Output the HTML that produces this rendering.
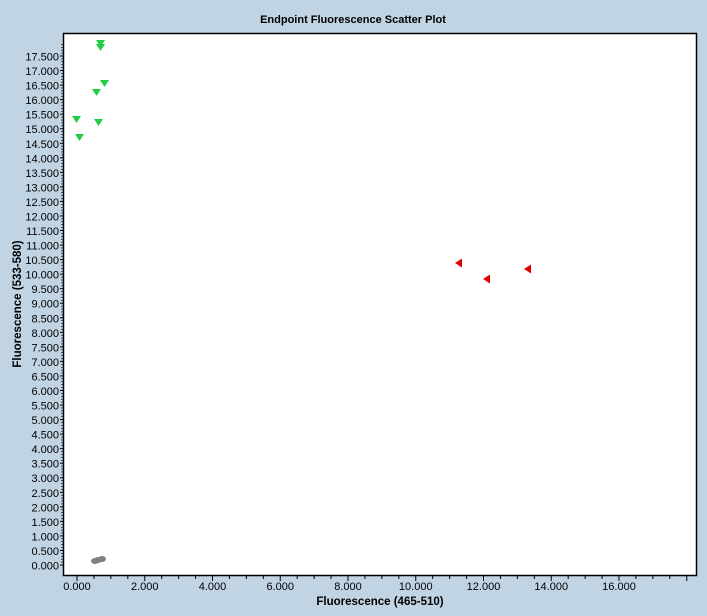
<!DOCTYPE html>
<html><head><style>body{margin:0;background:#c1d4e4;}svg{display:block}text{font-family:"Liberation Sans",sans-serif}</style></head>
<body>
<svg width="707" height="616" xmlns="http://www.w3.org/2000/svg">
<rect width="707" height="616" fill="#c1d4e4"/>
<text x="353" y="23" text-anchor="middle" font-size="11" font-weight="bold">Endpoint Fluorescence Scatter Plot</text>
<rect x="63.5" y="33.5" width="633" height="542" fill="#fff" stroke="#000" stroke-width="1.5"/>
<g id="yt" font-size="11" text-anchor="end"></g>
<g id="xt" font-size="11" text-anchor="middle"></g>
<text x="380" y="605" text-anchor="middle" font-size="11.5" font-weight="bold">Fluorescence (465-510)</text>
<text transform="translate(21,304) rotate(-90)" text-anchor="middle" font-size="11.5" font-weight="bold">Fluorescence (533-580)</text>
<g fill="#22cc44">
<path d="M96,40h9l-4.5,7z"/><path d="M96,44h9l-4.5,7z"/>
<path d="M100,80h9l-4.5,7z"/><path d="M92,89h9l-4.5,7z"/>
<path d="M72,116h9l-4.5,7z"/><path d="M94,119h9l-4.5,7z"/>
<path d="M75,134h9l-4.5,7z"/>
</g>
<g fill="#e00000">
<path d="M455,263l7,-4.5v9z"/><path d="M483,279l7,-4.5v9z"/><path d="M524,269l7,-4.5v9z"/>
</g>
<g fill="#808080">
<ellipse cx="95" cy="561" rx="4" ry="3"/><ellipse cx="98" cy="560" rx="4" ry="3"/><ellipse cx="102" cy="559" rx="4" ry="3"/>
</g>
<script>
var ns="http://www.w3.org/2000/svg",yt=document.getElementById('yt'),xt=document.getElementById('xt');
function el(p,t,a){var e=document.createElementNS(ns,t);for(var k in a)e.setAttribute(k,a[k]);p.appendChild(e);return e;}
for(var i=0;i<=35;i++){var v=i*0.5,y=565-v*29.086;
 var t=el(yt,'text',{x:59,y:y+4.5});t.textContent=v.toFixed(3);
 el(yt,'line',{x1:60,x2:63,y1:y,y2:y,stroke:'#000','stroke-width':1});
 for(var j=1;j<5&&i<36;j++){var yy=y-j*29.086/10;if(yy>34)el(yt,'line',{x1:61,x2:63,y1:yy,y2:yy,stroke:'#000','stroke-width':0.6});}
}
for(var u=0;u<=18.5;u+=0.5){var x=77+u*33.875;if(x>696)break;
 el(xt,'line',{x1:x,x2:x,y1:576,y2:u%2==0?581:579,stroke:'#000','stroke-width':1});
 if(u%2==0&&u<=16){var t=el(xt,'text',{x:x,y:590});t.textContent=u.toFixed(3);}
}
</script>
</svg>
</body></html>
